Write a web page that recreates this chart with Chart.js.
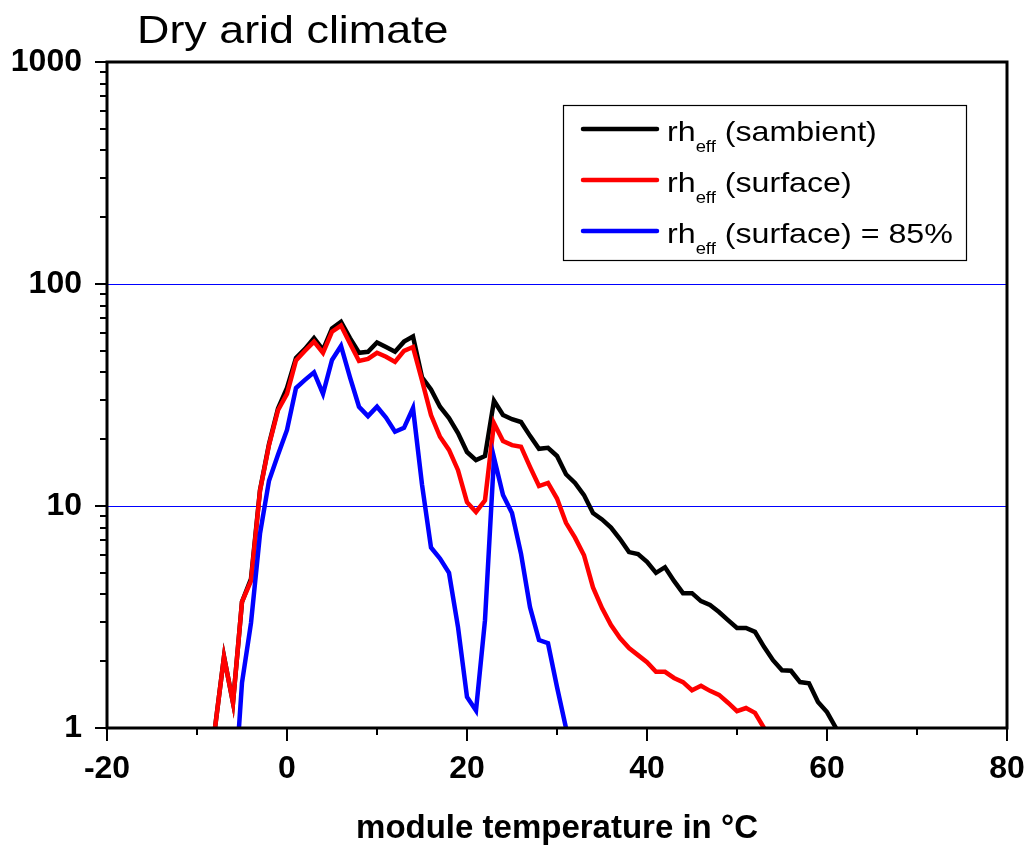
<!DOCTYPE html>
<html>
<head>
<meta charset="utf-8">
<script src="https://cdn.jsdelivr.net/npm/chart.js@4/dist/chart.umd.min.js"></script>
<style>
  html, body { margin: 0; padding: 0; background: #ffffff; }
  #wrap { position: relative; width: 1027px; height: 845px; }
</style>
</head>
<body>
<div id="wrap"><canvas id="c"></canvas></div>
<script>
// ---------- data ----------
const chartTitle = 'Dry arid climate';
const xAxisTitle = 'module temperature in °C';
const temperature = [-8,-7,-6,-5,-4,-3,-2,-1,0,1,2,3,4,5,6,7,8,9,10,11,12,13,14,15,16,17,18,19,20,21,22,23,24,25,26,27,28,29,30,31,32,33,34,35,36,37,38,39,40,41,42,43,44,45,46,47,48,49,50,51,52,53,54,55,56,57,58,59,60,61];

const rhAmbient = [1.0,2.1,1.3,3.7,4.7,11.8,19,27.5,34,46.5,51,57,50.5,63,67.5,57,49,49.5,54.5,52,49.5,55,58,38,33.5,28,24.9,21.3,17.5,16.1,16.8,29.8,25.7,24.6,23.9,20.7,18.1,18.3,16.8,13.9,12.7,11.2,9.3,8.7,8.0,7.1,6.2,6.07,5.6,5.0,5.3,4.6,4.05,4.05,3.73,3.58,3.33,3.06,2.82,2.82,2.71,2.32,2.02,1.82,1.81,1.61,1.59,1.31,1.18,1.0];

const rhSurface = [1.0,2.09,1.3,3.7,4.6,11.7,18.8,27,32,45.3,50,55,48.9,61,65,54,45,46,49,47,44.6,50,52,36.8,25.7,20.5,17.9,14.5,10.4,9.4,10.6,23.6,19.6,18.8,18.5,15.0,12.3,12.7,10.8,8.4,7.2,6.0,4.3,3.47,2.91,2.54,2.29,2.13,1.98,1.79,1.79,1.68,1.61,1.48,1.55,1.47,1.41,1.30,1.19,1.23,1.17,1.0,null,null,null,null,null,null,null,null];

const rhSurface85 = [null,null,0.4,1.6,2.97,7.5,13,17,22,34,37,40,32,45.5,52.6,38,28,25.4,28,25,21.6,22.5,27.6,12.5,6.5,5.8,5.0,2.85,1.38,1.2,3.06,16.5,11.2,9.3,6.1,3.5,2.49,2.41,1.53,1.0,null,null,null,null,null,null,null,null,null,null,null,null,null,null,null,null,null,null,null,null,null,null,null,null,null,null,null,null,null,null];

const legendBase = ['rh', 'rh', 'rh'];
const legendSub  = ['eff', 'eff', 'eff'];
const legendTail = [' (sambient)', ' (surface)', ' (surface) = 85%'];
const seriesColors = ['#000000', '#ff0000', '#0000ff'];

const xTicksMajor = [-20, 0, 20, 40, 60, 80];
const xTicksMinor = [-10, 10, 30, 50, 70];
const yTicksMajor = [1, 10, 100, 1000];
const yGridBlue = [10, 100];

// ---------- helpers ----------
const FONT = '"Liberation Sans", Arial, Helvetica, sans-serif';
const STRETCH = 1.15;
function toPoints(vals) {
  return temperature.map((t, i) => ({ x: t, y: vals[i] }));
}
const seriesValues = [rhAmbient, rhSurface, rhSurface85];

function stretchedText(ctx, text, x, y) {
  ctx.save();
  ctx.translate(x, y);
  ctx.scale(STRETCH, 1);
  ctx.fillText(text, 0, 0);
  ctx.restore();
  return ctx.measureText(text).width * STRETCH;
}

const frameTicks = {
  id: 'frameTicks',
  afterDatasetsDraw(chart) {
    const { ctx, chartArea: a, scales } = chart;
    const xs = scales.x, ys = scales.y;
    ctx.save();
    ctx.strokeStyle = '#000';
    ctx.lineWidth = 2;
    ctx.lineCap = 'butt';
    ctx.beginPath();
    xTicksMajor.forEach(v => { const p = Math.round(xs.getPixelForValue(v)); ctx.moveTo(p, a.bottom); ctx.lineTo(p, a.bottom + 13); });
    xTicksMinor.forEach(v => { const p = Math.round(xs.getPixelForValue(v)); ctx.moveTo(p, a.bottom); ctx.lineTo(p, a.bottom + 7); });
    yTicksMajor.forEach(v => { const p = Math.round(ys.getPixelForValue(v)); ctx.moveTo(a.left, p); ctx.lineTo(a.left - 12, p); });
    for (let d = 1; d < 1000; d *= 10) {
      for (let m = 2; m <= 9; m++) {
        const p = Math.round(ys.getPixelForValue(m * d));
        ctx.moveTo(a.left, p); ctx.lineTo(a.left - 7, p);
      }
    }
    ctx.stroke();
    ctx.lineWidth = 3;
    ctx.strokeRect(a.left, a.top, a.right - a.left, a.bottom - a.top);
    ctx.restore();
  },
  afterDraw(chart) {
    const { ctx } = chart;
    ctx.save();
    ctx.fillStyle = '#000';
    ctx.textBaseline = 'alphabetic';
    ctx.textAlign = 'left';
    ctx.font = '39px ' + FONT;
    stretchedText(ctx, chartTitle, 137, 43);
    // legend
    const bx = 563, by = 105, bw = 403, bh = 155;
    ctx.lineWidth = 1.2;
    ctx.strokeStyle = '#000';
    ctx.strokeRect(bx + 0.5, by + 0.5, bw, bh);
    const rowY = [129, 180, 231];
    chart.data.datasets.forEach((ds, i) => {
      const y = rowY[i];
      ctx.strokeStyle = ds.borderColor;
      ctx.lineWidth = 4.5;
      ctx.lineCap = 'round';
      ctx.beginPath();
      ctx.moveTo(583, y); ctx.lineTo(657, y);
      ctx.stroke();
      ctx.fillStyle = '#000';
      let x = 667;
      const base = y + 12;
      ctx.font = '28px ' + FONT;
      x += stretchedText(ctx, legendBase[i], x, base);
      ctx.font = '16px ' + FONT;
      x += stretchedText(ctx, legendSub[i], x, base + 11);
      ctx.font = '28px ' + FONT;
      stretchedText(ctx, legendTail[i], x, base);
    });
    ctx.restore();
  }
};

new Chart(document.getElementById('c'), {
  type: 'line',
  data: {
    datasets: seriesValues.map((vals, i) => ({
      label: legendBase[i] + legendSub[i] + legendTail[i],
      data: toPoints(vals),
      borderColor: seriesColors[i],
      backgroundColor: seriesColors[i],
      borderWidth: 4.5,
      pointRadius: 0,
      tension: 0,
      spanGaps: false,
      order: 3 - i
    }))
  },
  options: {
    responsive: true,
    maintainAspectRatio: false,
    animation: false,
    layout: { padding: { top: 62, right: 20, left: 0, bottom: 0 } },
    plugins: {
      legend: { display: false },
      title: { display: false },
      tooltip: { enabled: false }
    },
    scales: {
      x: {
        type: 'linear',
        min: -20, max: 80,
        afterFit: s => { s.height = 117; s.paddingLeft = 0; s.paddingRight = 0; },
        afterBuildTicks: s => { s.ticks = xTicksMajor.map(v => ({ value: v })); },
        grid: { display: false, drawTicks: false },
        border: { display: false },
        ticks: {
          color: '#000',
          padding: 22,
          maxRotation: 0,
          autoSkip: false,
          font: { family: FONT, size: 32, weight: 'bold' }
        },
        title: {
          display: true,
          text: xAxisTitle,
          color: '#000',
          font: { family: FONT, size: 33, weight: 'bold', lineHeight: 1.0 },
          padding: { top: 10, bottom: 0 }
        }
      },
      y: {
        type: 'logarithmic',
        min: 1, max: 1000,
        afterFit: s => { s.width = 107; s.paddingTop = 0; s.paddingBottom = 0; },
        afterBuildTicks: s => { s.ticks = yTicksMajor.map(v => ({ value: v })); },
        grid: {
          drawTicks: false,
          color: c => (c.tick && yGridBlue.includes(c.tick.value)) ? '#0000ff' : 'rgba(0,0,0,0)',
          lineWidth: 1
        },
        border: { display: false },
        ticks: {
          color: '#000',
          padding: 25,
          autoSkip: false,
          font: { family: FONT, size: 32, weight: 'bold' },
          callback: v => String(v)
        }
      }
    }
  },
  plugins: [frameTicks]
});
</script>
</body>
</html>
